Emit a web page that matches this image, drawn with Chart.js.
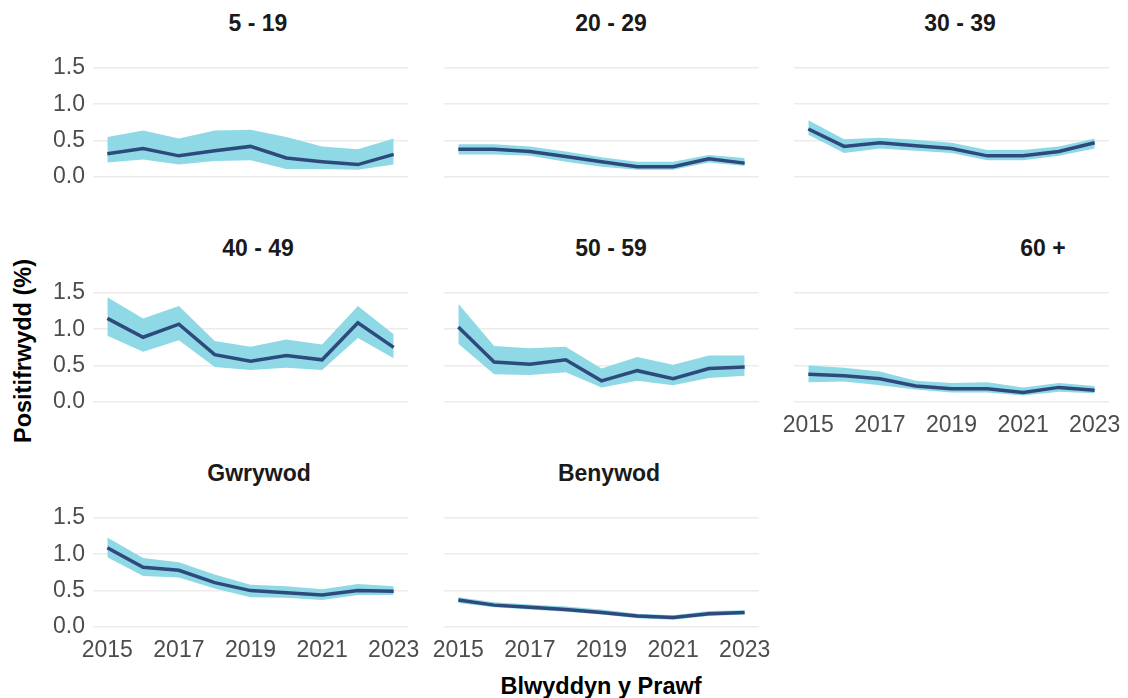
<!DOCTYPE html>
<html>
<head>
<meta charset="utf-8">
<script src="https://cdn.jsdelivr.net/npm/chart.js@4.4.1/dist/chart.umd.min.js"></script>
<style>
    body { margin: 0; background: #ffffff; }
    #lienzo { position: relative; width: 1128px; height: 698px; overflow: hidden; font-family: "Liberation Sans", Arial, sans-serif; }
    #lienzo canvas { position: absolute; }
    .eje-titulo { position: absolute; font-weight: bold; font-size: 23.5px; color: #000000; white-space: nowrap; }
    .panel-titulo { position: absolute; font-weight: bold; font-size: 23px; color: #1a1a1a; white-space: nowrap; transform: translate(-50%, -50%); }
</style>
</head>
<body>
<div id="lienzo">
    <div class="eje-titulo" id="titulo-y" style="left:23px; top:351px; transform: translate(-50%, -50%) rotate(-90deg);">Positifrwydd (%)</div>
    <div class="eje-titulo" id="titulo-x" style="left:601px; top:686px; transform: translate(-50%, -50%);">Blwyddyn y Prawf</div>
</div>
<script>
'use strict';

// Years on the x axis and the ticks that are labelled
const years = [2015, 2016, 2017, 2018, 2019, 2020, 2021, 2022, 2023];
const xTicks = [2015, 2017, 2019, 2021, 2023];
const yTicks = [0, 0.5, 1.0, 1.5];

const panelTitles = ["5 - 19", "20 - 29", "30 - 39", "40 - 49", "50 - 59", "60 +", "Gwrywod", "Benywod"];

// Positivity (%) with lower / upper bounds, one set per panel
const est_5_19 = [0.32, 0.39, 0.29, 0.36, 0.42, 0.26, 0.21, 0.17, 0.31];
const lo_5_19 = [0.20, 0.24, 0.17, 0.22, 0.23, 0.11, 0.11, 0.10, 0.17];
const hi_5_19 = [0.55, 0.64, 0.53, 0.64, 0.65, 0.55, 0.42, 0.38, 0.53];

const est_20_29 = [0.38, 0.38, 0.35, 0.28, 0.21, 0.14, 0.14, 0.25, 0.19];
const lo_20_29 = [0.31, 0.31, 0.29, 0.21, 0.14, 0.10, 0.10, 0.20, 0.15];
const hi_20_29 = [0.45, 0.45, 0.42, 0.35, 0.27, 0.21, 0.21, 0.30, 0.26];

const est_30_39 = [0.66, 0.42, 0.47, 0.43, 0.39, 0.29, 0.29, 0.35, 0.47];
const lo_30_39 = [0.58, 0.33, 0.39, 0.36, 0.33, 0.23, 0.23, 0.29, 0.39];
const hi_30_39 = [0.78, 0.52, 0.54, 0.51, 0.47, 0.37, 0.37, 0.42, 0.53];

const est_40_49 = [1.15, 0.89, 1.07, 0.65, 0.56, 0.64, 0.58, 1.09, 0.75];
const lo_40_49 = [0.91, 0.69, 0.85, 0.48, 0.44, 0.47, 0.44, 0.88, 0.60];
const hi_40_49 = [1.44, 1.15, 1.32, 0.84, 0.76, 0.86, 0.79, 1.32, 0.93];

const est_50_59 = [1.03, 0.55, 0.52, 0.58, 0.29, 0.43, 0.32, 0.46, 0.48];
const lo_50_59 = [0.80, 0.38, 0.37, 0.41, 0.20, 0.29, 0.23, 0.33, 0.36];
const hi_50_59 = [1.35, 0.77, 0.74, 0.76, 0.46, 0.62, 0.51, 0.64, 0.64];

const est_60 = [0.38, 0.36, 0.32, 0.22, 0.18, 0.18, 0.13, 0.20, 0.16];
const lo_60 = [0.27, 0.28, 0.23, 0.17, 0.13, 0.13, 0.09, 0.14, 0.12];
const hi_60 = [0.50, 0.47, 0.42, 0.29, 0.26, 0.27, 0.20, 0.26, 0.22];

const est_gwrywod = [1.09, 0.82, 0.78, 0.61, 0.50, 0.47, 0.44, 0.50, 0.49];
const lo_gwrywod = [0.96, 0.70, 0.68, 0.53, 0.41, 0.40, 0.37, 0.44, 0.44];
const hi_gwrywod = [1.23, 0.95, 0.89, 0.72, 0.58, 0.56, 0.52, 0.59, 0.56];

const est_benywod = [0.37, 0.30, 0.27, 0.24, 0.20, 0.15, 0.13, 0.18, 0.20];
const lo_benywod = [0.33, 0.27, 0.24, 0.21, 0.17, 0.12, 0.10, 0.15, 0.17];
const hi_benywod = [0.41, 0.34, 0.31, 0.28, 0.24, 0.18, 0.16, 0.22, 0.23];

const panelData = [
    [est_5_19, lo_5_19, hi_5_19],
    [est_20_29, lo_20_29, hi_20_29],
    [est_30_39, lo_30_39, hi_30_39],
    [est_40_49, lo_40_49, hi_40_49],
    [est_50_59, lo_50_59, hi_50_59],
    [est_60, lo_60, hi_60],
    [est_gwrywod, lo_gwrywod, hi_gwrywod],
    [est_benywod, lo_benywod, hi_benywod]
];

// Layout of the facet grid (plot area left edges, canvas tops, strip label centres)
const colLeft = [93, 444, 794];
const rowTop = [10, 235, 460];
const titleX = [258, 611, 960, 258, 611, 1043, 259, 609];
const titleY = [23, 248, 473];
const areaWidth = 315;
const padLeft = 8, yAxisWidth = 52, padRight = 20;
const areaOffset = 56.5;
const areaHeight = 115.6;
const xAxisHeight = 30;

const fontFamily = '"Liberation Sans", Arial, sans-serif';
const ribbonColor = "#8fd9e6";
const lineColor = "#2e4a7d";

/**
 * Turns a list of values into {x, y} points for the year scale.
 */
function toPoints(values) {
    return values.map((v, i) => ({ x: years[i], y: v }));
}

/**
 * Draws one facet panel with its strip label.
 */
function drawPanel(index) {
    const col = index % 3;
    const row = Math.floor(index / 3);
    const showY = col === 0;
    // x labels only on the bottom panel of each column
    const showX = index >= 5;
    const lienzo = document.getElementById("lienzo");

    const label = document.createElement("div");
    label.className = "panel-titulo";
    label.style.left = titleX[index] + "px";
    label.style.top = titleY[row] + "px";
    label.textContent = panelTitles[index];
    lienzo.appendChild(label);

    const canvas = document.createElement("canvas");
    const w = padLeft + yAxisWidth + areaWidth + padRight;
    const h = areaOffset + areaHeight + xAxisHeight;
    canvas.width = w;
    canvas.height = h;
    canvas.style.left = (colLeft[col] - padLeft - yAxisWidth) + "px";
    canvas.style.top = rowTop[row] + "px";
    canvas.style.width = w + "px";
    canvas.style.height = h + "px";
    lienzo.appendChild(canvas);

    const [est, lo, hi] = panelData[index];

    // Chart.js paints the first dataset last, so the estimate line goes first
    new Chart(canvas.getContext("2d"), {
        type: "line",
        data: {
            datasets: [
                {
                    data: toPoints(est),
                    fill: false,
                    borderColor: lineColor,
                    borderWidth: 3.5,
                    pointRadius: 0,
                    tension: 0
                },
                {
                    data: toPoints(hi),
                    fill: "+1",
                    backgroundColor: ribbonColor,
                    borderWidth: 0,
                    pointRadius: 0
                },
                {
                    data: toPoints(lo),
                    fill: false,
                    borderWidth: 0,
                    pointRadius: 0
                }
            ]
        },
        options: {
            responsive: false,
            animation: false,
            layout: { padding: { left: padLeft, right: padRight, top: areaOffset, bottom: 0 } },
            plugins: {
                legend: { display: false },
                tooltip: { enabled: false },
                title: { display: false }
            },
            scales: {
                x: {
                    type: "linear",
                    min: 2014.6,
                    max: 2023.4,
                    afterBuildTicks: scale => { scale.ticks = xTicks.map(v => ({ value: v })); },
                    afterFit: scale => { scale.height = xAxisHeight; },
                    grid: { display: false },
                    border: { display: false },
                    ticks: {
                        display: showX,
                        padding: -3,
                        color: "#4d4d4d",
                        font: { family: fontFamily, size: 23 },
                        maxRotation: 0,
                        callback: v => String(v)
                    }
                },
                y: {
                    min: -0.07,
                    max: 1.52,
                    afterBuildTicks: scale => { scale.ticks = yTicks.map(v => ({ value: v })); },
                    afterFit: scale => { scale.width = yAxisWidth; },
                    grid: { color: "#ebebeb", lineWidth: 1.6, drawTicks: false },
                    border: { display: false },
                    ticks: {
                        display: showY,
                        padding: 8,
                        color: "#4d4d4d",
                        font: { family: fontFamily, size: 23 },
                        callback: v => v.toFixed(1)
                    }
                }
            }
        }
    });
}

panelTitles.forEach((t, i) => drawPanel(i));
</script>
</body>
</html>
